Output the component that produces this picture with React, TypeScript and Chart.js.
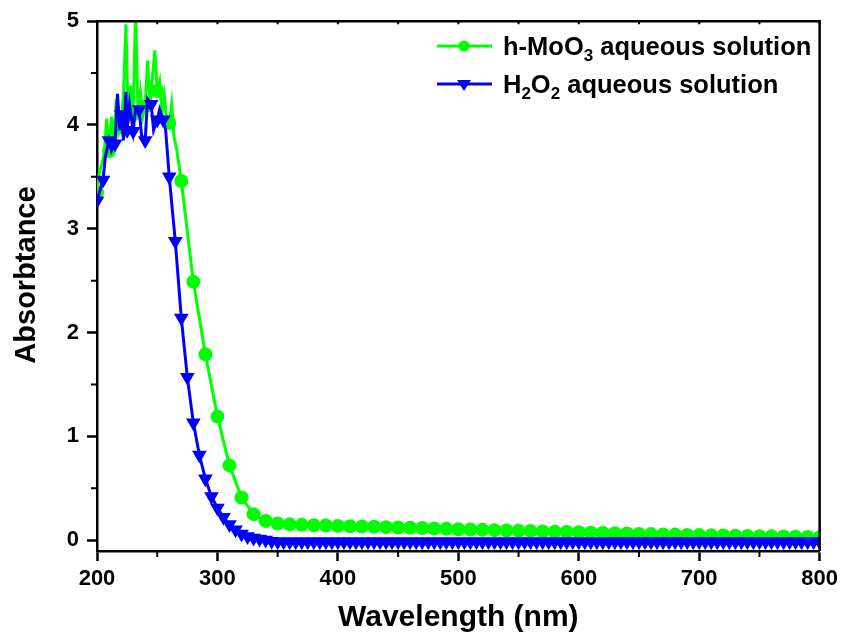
import React, { useEffect, useRef } from 'react';
import { Chart, registerables } from 'chart.js';

Chart.register(...registerables);

const FONT = "'Liberation Sans', Arial, sans-serif";

// h-MoO3 aqueous solution (wavelength nm, absorbance)
const greenWavelengths = [
  200, 202, 204, 206, 208, 210, 212, 214, 216, 218,
  220, 222, 224, 226, 228, 230, 232, 234, 236, 238,
  240, 242, 244, 246, 248, 250, 252, 254, 256, 258,
  260, 262, 264, 266, 268, 270,
  280, 290, 300, 310, 320, 330, 340, 350, 360, 370,
  380, 390, 400, 410, 420, 430, 440, 450, 460, 470,
  480, 490, 500, 510, 520, 530, 540, 550, 560, 570,
  580, 590, 600, 610, 620, 630, 640, 650, 660, 670,
  680, 690, 700, 710, 720, 730, 740, 750, 760, 770,
  780, 790, 800,
];
const greenAbsorbance = [
  3.35, 3.55, 3.62, 3.72, 4.06, 3.75, 4.08, 3.85, 4.25, 3.92,
  3.98, 4.3, 4.97, 4.02, 4.38, 4.1, 5.1, 4.12, 4.32, 4.08,
  4.18, 4.62, 4.2, 4.45, 4.72, 4.33, 4.42, 4.12, 4.28, 4.02,
  4.02, 4.2, 3.88, 3.78, 3.62, 3.46,
  2.49, 1.79, 1.19, 0.72, 0.41, 0.25, 0.185, 0.16, 0.152, 0.147,
  0.143, 0.14, 0.137, 0.134, 0.131, 0.128, 0.125, 0.122, 0.119, 0.116,
  0.112, 0.109, 0.105, 0.102, 0.099, 0.096, 0.093, 0.09, 0.087, 0.084,
  0.081, 0.078, 0.075, 0.072, 0.069, 0.066, 0.063, 0.06, 0.058, 0.055,
  0.053, 0.05, 0.048, 0.046, 0.044, 0.042, 0.04, 0.038, 0.036, 0.034,
  0.032, 0.03, 0.028,
];

// H2O2 aqueous solution (wavelength nm, absorbance)
const blueWavelengths = [
  200, 202, 205, 207, 210, 212, 215, 217, 219, 220,
  222, 224, 225, 227, 230, 232, 235, 237, 240, 242,
  245, 247, 250, 252, 255, 257, 260, 265, 270, 275,
  280, 285, 290, 295, 300, 305, 310, 315, 320, 325,
  330, 335, 340, 345,
  350, 355, 360, 365, 370, 375, 380, 385, 390, 395,
  400, 405, 410, 415, 420, 425, 430, 435, 440, 445,
  450, 455, 460, 465, 470, 475, 480, 485, 490, 495,
  500, 505, 510, 515, 520, 525, 530, 535, 540, 545,
  550, 555, 560, 565, 570, 575, 580, 585, 590, 595,
  600, 605, 610, 615, 620, 625, 630, 635, 640, 645,
  650, 655, 660, 665, 670, 675, 680, 685, 690, 695,
  700, 705, 710, 715, 720, 725, 730, 735, 740, 745,
  750, 755, 760, 765, 770, 775, 780, 785, 790, 795,
  800,
];
const blueAbsorbance = [
  3.27, 3.35, 3.47, 3.7, 3.85, 3.75, 3.82, 4.3, 3.95, 4.1,
  3.85, 4.32, 3.95, 4.2, 3.94, 4.15, 4.15, 3.9, 3.85, 4.25,
  4.2, 3.95, 4.05, 4.15, 4.05, 3.95, 3.5, 2.88, 2.14, 1.57,
  1.13, 0.82, 0.59, 0.42, 0.31, 0.22, 0.15, 0.1, 0.06, 0.035,
  0.02, 0.01, 0.0, -0.01,
  -0.015, -0.015, -0.015, -0.015, -0.015, -0.015, -0.015, -0.015, -0.015, -0.015,
  -0.015, -0.015, -0.015, -0.015, -0.015, -0.015, -0.015, -0.015, -0.015, -0.015,
  -0.015, -0.015, -0.015, -0.015, -0.015, -0.015, -0.015, -0.015, -0.015, -0.015,
  -0.015, -0.015, -0.015, -0.015, -0.015, -0.015, -0.015, -0.015, -0.015, -0.015,
  -0.015, -0.015, -0.015, -0.015, -0.015, -0.015, -0.015, -0.015, -0.015, -0.015,
  -0.015, -0.015, -0.015, -0.015, -0.015, -0.015, -0.015, -0.015, -0.015, -0.015,
  -0.015, -0.015, -0.015, -0.015, -0.015, -0.015, -0.015, -0.015, -0.015, -0.015,
  -0.015, -0.015, -0.015, -0.015, -0.015, -0.015, -0.015, -0.015, -0.015, -0.015,
  -0.015, -0.015, -0.015, -0.015, -0.015, -0.015, -0.015, -0.015, -0.015, -0.015,
  -0.015,
];

const xTickValues = [200, 300, 400, 500, 600, 700, 800];
const yTickValues = [0, 1, 2, 3, 4, 5];
const xMinorTicks = [250, 350, 450, 550, 650, 750];
const yMinorTicks = [0.5, 1.5, 2.5, 3.5, 4.5];

const xTitle = 'Wavelength (nm)';
const yTitle = 'Absorbtance';

// legend labels as [text, isSubscript] parts
const greenLabel: [string, boolean][] = [['h-MoO', false], ['3', true], [' aqueous solution', false]];
const blueLabel: [string, boolean][] = [['H', false], ['2', true], ['O', false], ['2', true], [' aqueous solution', false]];

const GREEN = '#00ff00';
const BLUE = '#0000ff';

function drawRich(ctx: CanvasRenderingContext2D, parts: [string, boolean][], x: number, y: number) {
  let cx = x;
  for (const [t, sub] of parts) {
    ctx.font = sub ? `bold 17px ${FONT}` : `bold 25.5px ${FONT}`;
    ctx.fillText(t, cx, sub ? y + 6 : y);
    cx += ctx.measureText(t).width;
  }
}

const framePlugin = {
  id: 'frame',
  afterDraw(chart: any) {
    const { ctx, chartArea } = chart;
    const { left, right, top, bottom } = chartArea;
    const xs = chart.scales.x;
    const ys = chart.scales.y;
    ctx.save();
    ctx.strokeStyle = '#000';
    ctx.lineWidth = 2.5;
    ctx.beginPath();
    ctx.moveTo(left, top);
    ctx.lineTo(right, top);
    ctx.lineTo(right, bottom);
    ctx.stroke();
    ctx.lineWidth = 2;
    // minor ticks
    ctx.beginPath();
    for (const v of xMinorTicks) {
      const px = xs.getPixelForValue(v);
      ctx.moveTo(px, bottom);
      ctx.lineTo(px, bottom + 6);
    }
    for (const v of yMinorTicks) {
      const py = ys.getPixelForValue(v);
      ctx.moveTo(left, py);
      ctx.lineTo(left - 6, py);
    }
    // small inward ticks on the top edge
    for (const v of [...xTickValues, ...xMinorTicks]) {
      const px = xs.getPixelForValue(v);
      ctx.moveTo(px, top);
      ctx.lineTo(px, top + 3);
    }
    ctx.stroke();

    // y axis title
    ctx.save();
    ctx.translate(27, 275);
    ctx.rotate(-Math.PI / 2);
    ctx.fillStyle = '#000';
    ctx.font = `bold 29px ${FONT}`;
    ctx.textAlign = 'center';
    ctx.textBaseline = 'middle';
    ctx.fillText(yTitle, 0, 0);
    ctx.restore();

    // legend
    const items = [
      { color: GREEN, y: 46, style: 'circle', parts: greenLabel, base: 55 },
      { color: BLUE, y: 84, style: 'triangle', parts: blueLabel, base: 93 },
    ];
    for (const it of items) {
      ctx.strokeStyle = it.color;
      ctx.fillStyle = it.color;
      ctx.lineWidth = 3;
      ctx.beginPath();
      ctx.moveTo(437, it.y);
      ctx.lineTo(492, it.y);
      ctx.stroke();
      ctx.beginPath();
      if (it.style === 'circle') {
        ctx.arc(464, it.y, 5.5, 0, Math.PI * 2);
      } else {
        ctx.moveTo(457, it.y - 4);
        ctx.lineTo(471, it.y - 4);
        ctx.lineTo(464, it.y + 7);
        ctx.closePath();
      }
      ctx.fill();
      ctx.fillStyle = '#000';
      ctx.textBaseline = 'alphabetic';
      ctx.textAlign = 'left';
      drawRich(ctx, it.parts, 503, it.base);
    }
    ctx.restore();
  },
};

export default function App() {
  const ref = useRef<HTMLCanvasElement | null>(null);
  useEffect(() => {
    if (!ref.current) return;
    const greenData = greenWavelengths.map((x, i) => ({ x, y: greenAbsorbance[i] }));
    const blueData = blueWavelengths.map((x, i) => ({ x, y: blueAbsorbance[i] }));
    const chart = new Chart(ref.current, {
      type: 'line',
      data: {
        datasets: [
          {
            label: 'h-MoO3 aqueous solution',
            data: greenData,
            borderColor: GREEN,
            backgroundColor: GREEN,
            borderWidth: 3,
            tension: 0,
            pointStyle: 'circle',
            pointRadius: (c: any) => (c.raw && c.raw.x % 10 === 0 ? 7 : 0),
            pointBorderWidth: 0,
            pointBackgroundColor: GREEN,
            order: 1,
          },
          {
            label: 'H2O2 aqueous solution',
            data: blueData,
            borderColor: BLUE,
            backgroundColor: BLUE,
            borderWidth: 3,
            tension: 0,
            pointStyle: 'triangle',
            rotation: 180,
            pointRadius: (c: any) => (c.raw && c.raw.x % 5 === 0 ? 8.5 : 0),
            pointBorderWidth: 0,
            pointBackgroundColor: BLUE,
            order: 0,
          },
        ],
      },
      options: {
        animation: false,
        responsive: true,
        maintainAspectRatio: false,
        layout: { padding: { left: 0, right: 21, top: 20, bottom: 0 } },
        plugins: { legend: { display: false }, tooltip: { enabled: false } },
        scales: {
          x: {
            type: 'linear',
            min: 200,
            max: 800,
            afterBuildTicks: (s: any) => { s.ticks = xTickValues.map((v) => ({ value: v })); },
            afterFit: (s: any) => { s.height = 86; },
            ticks: { color: '#000', font: { family: FONT, size: 22, weight: 'bold' }, padding: 5, maxRotation: 0 },
            grid: { drawOnChartArea: false, drawTicks: true, tickLength: 10, tickWidth: 2.5, tickColor: '#000' },
            border: { display: true, color: '#000', width: 2.5 },
            title: { display: true, text: xTitle, color: '#000', font: { family: FONT, size: 30, weight: 'bold' }, padding: { top: 0, bottom: 1 } },
          },
          y: {
            type: 'linear',
            min: -0.105,
            max: 5,
            afterBuildTicks: (s: any) => { s.ticks = yTickValues.map((v) => ({ value: v })); },
            afterFit: (s: any) => { s.width = 97; },
            ticks: { color: '#000', font: { family: FONT, size: 22, weight: 'bold' }, padding: 8 },
            grid: { drawOnChartArea: false, drawTicks: true, tickLength: 10, tickWidth: 2.5, tickColor: '#000' },
            border: { display: true, color: '#000', width: 2.5 },
            title: { display: false, text: yTitle },
          },
        },
      },
      plugins: [framePlugin],
    } as any);
    return () => chart.destroy();
  }, []);
  return (
    <div style={{ position: 'fixed', left: 0, top: 0, width: 843, height: 637, background: '#fff' }}>
      <canvas ref={ref} />
    </div>
  );
}
